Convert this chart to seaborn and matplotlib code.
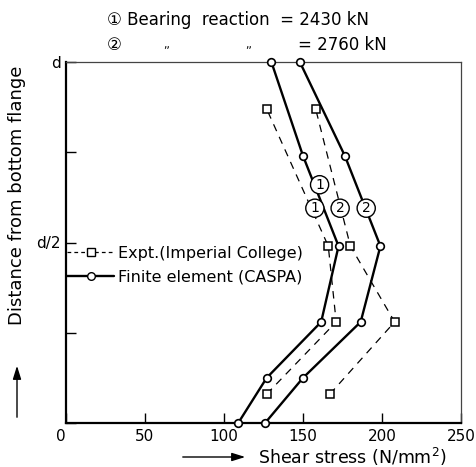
import numpy as np
import pandas as pd
import seaborn as sns
import matplotlib.pyplot as plt
from matplotlib.lines import Line2D

sns.set_style("white")
plt.rcParams['font.family'] = ['DejaVu Sans', 'Noto Sans CJK JP']
plt.rcParams.update({'text.color': 'black', 'axes.labelcolor': 'black',
                     'xtick.color': 'black', 'ytick.color': 'black'})

# Data (y as fraction of depth d)
fe_y = [0.0, 0.125, 0.28, 0.49, 0.74, 1.0]
fe1_x = [109, 127, 161.5, 172.5, 150, 130]
fe2_x = [126, 150, 186.5, 199, 176.5, 148]
ex_y = [0.08, 0.28, 0.49, 0.87]
ex1_x = [127, 171, 166, 127]
ex2_x = [167, 208, 180, 158]
xticks = [0, 50, 100, 150, 200, 250]
yticks = [0, 0.25, 0.5, 0.75, 1.0]
ytick_labels = ["", "", "d/2", "", "d"]

fig = plt.figure(figsize=(4.76, 4.67), dpi=100)
ax = fig.add_axes([66/476, 1-423/467, 395/476, 361/467])

for xs in (fe1_x, fe2_x):
    sns.lineplot(x=xs, y=fe_y, sort=False, estimator=None, ax=ax, color='black',
                 lw=1.7, marker='o', markersize=5.5, markerfacecolor='white',
                 markeredgecolor='black', markeredgewidth=1.2, clip_on=False, zorder=5)
for xs in (ex1_x, ex2_x):
    sns.lineplot(x=xs, y=ex_y, sort=False, estimator=None, ax=ax, color='black',
                 lw=0.9, ls=(0, (6, 5)), marker='s', markersize=5.5, markerfacecolor='white',
                 markeredgecolor='black', markeredgewidth=1.1, zorder=4)

ax.set_xlim(0, 250)
ax.set_ylim(0, 1)
ax.set_xticks(xticks)
ax.set_xticklabels([str(t) for t in xticks], fontsize=11)
ax.set_yticks(yticks)
ax.set_yticklabels(ytick_labels, fontsize=11)
ax.tick_params(direction='in', length=7, width=1, pad=4, bottom=True, left=True)
ax.get_xticklabels()[0].set_ha('right')
for s in ['left', 'bottom']:
    ax.spines[s].set_linewidth(1.6)
    ax.spines[s].set_color('black')
for s in ['top', 'right']:
    ax.spines[s].set_linewidth(0.9)
    ax.spines[s].set_color('#444444')
for s in ax.spines.values():
    s.set_visible(True)
ax.set_xlabel("")
ax.set_ylabel("")

# circled labels
circ = dict(boxstyle='circle,pad=0.15', fc='white', ec='black', lw=1.0)
for (x, y, t) in [(160.5, 0.66, '1'), (157.5, 0.595, '1'), (173.5, 0.595, '2'), (190, 0.595, '2')]:
    ax.text(x, y, t, ha='center', va='center', fontsize=10, bbox=circ, zorder=6)

# legend
h1 = Line2D([], [], color='black', lw=0.9, ls=(0, (3, 2.5)), marker='s', markersize=5.5,
            markerfacecolor='white', markeredgecolor='black')
h2 = Line2D([], [], color='black', lw=1.7, marker='o', markersize=5.5,
            markerfacecolor='white', markeredgecolor='black')
ax.legend([h1, h2], ["Expt.(Imperial College)", "Finite element (CASPA)"],
          loc='upper left', bbox_to_anchor=(-0.035, 0.53), frameon=False, fontsize=11.5,
          handlelength=3.0, handletextpad=0.25, labelspacing=0.55)

# header
fig.text(107/476, 1-20/467, "① Bearing  reaction  = 2430 kN", fontsize=12, va='center', ha='left')
fig.text(107/476, 1-45/467, "②", fontsize=12, va='center', ha='left')
fig.text(163/476, 1-45/467, ",,", fontsize=8, va='center', ha='left')
fig.text(245/476, 1-45/467, ",,", fontsize=8, va='center', ha='left')
fig.text(298/476, 1-45/467, "= 2760 kN", fontsize=12, va='center', ha='left')

# axis labels with arrows
fig.text(258/476, 1-457/467, "Shear stress (N/mm$^2$)", fontsize=12.5, va='center', ha='left')
ax.annotate("", xy=(248/476, 1-457/467), xytext=(180/476, 1-457/467),
            xycoords='figure fraction', textcoords='figure fraction',
            arrowprops=dict(arrowstyle='-|>,head_length=0.8,head_width=0.25', color='black', lw=1))
fig.text(17/476, 1-195/467, "Distance from bottom flange", fontsize=13, rotation=90,
         va='center', ha='center')
ax.annotate("", xy=(17/476, 1-363/467), xytext=(17/476, 1-420/467),
            xycoords='figure fraction', textcoords='figure fraction',
            arrowprops=dict(arrowstyle='-|>,head_length=0.8,head_width=0.25', color='black', lw=1))

fig.savefig("out.png", dpi=100)
